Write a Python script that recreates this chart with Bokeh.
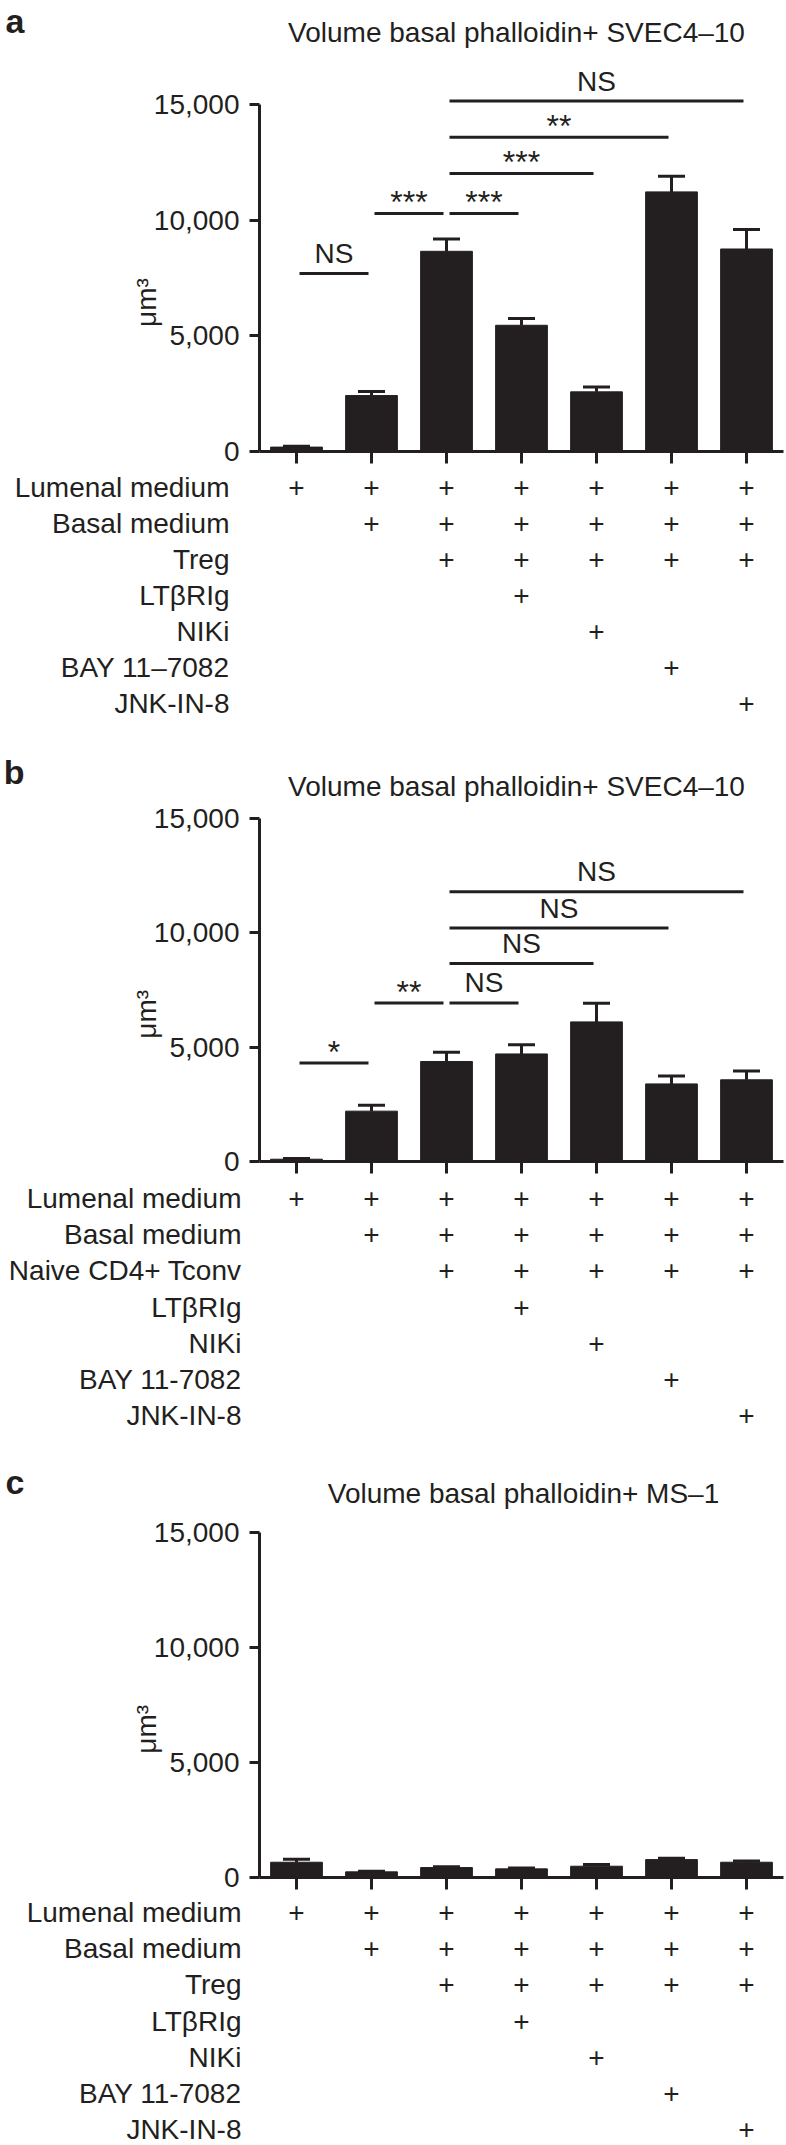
import math
from bokeh.plotting import figure
from bokeh.layouts import column
from bokeh.models import Range1d, FixedTicker, NumeralTickFormatter, ColumnDataSource, LinearAxis
from bokeh.embed import file_html
from bokeh.resources import INLINE
from bokeh.core.properties import value

FONT = "Liberation Sans"
INK = "#231f20"

groups = [1, 2, 3, 4, 5, 6, 7]

# ---- data ----
a_values = [190, 2420, 8660, 5460, 2580, 11230, 8760]
a_errors = [40, 175, 530, 290, 215, 680, 840]
b_values = [100, 2200, 4370, 4700, 6100, 3390, 3570]
b_errors = [30, 260, 400, 400, 820, 350, 380]
c_values = [663, 245, 432, 375, 490, 778, 663]
c_errors = [130, 30, 30, 43, 72, 58, 57]

a_comp_from = [1, 2, 3, 3, 3, 3]
a_comp_to = [2, 3, 4, 5, 6, 7]
a_comp_y = [7700, 10300, 10300, 12030, 13590, 15160]
a_comp_label = ["NS", "***", "***", "***", "**", "NS"]

b_comp_from = [1, 2, 3, 3, 3, 3]
b_comp_to = [2, 3, 4, 5, 6, 7]
b_comp_y = [4300, 6930, 6930, 8650, 10200, 11790]
b_comp_label = ["*", "**", "NS", "NS", "NS", "NS"]

a_title = "Volume basal phalloidin+ SVEC4\u201310"
b_title = "Volume basal phalloidin+ SVEC4\u201310"
c_title = "Volume basal phalloidin+ MS\u20131"
unit_label = "\u03bcm\u00b3"

a_rows = ["Lumenal medium", "Basal medium", "Treg", "LT\u03b2RIg", "NIKi", "BAY 11\u20137082", "JNK-IN-8"]
b_rows = ["Lumenal medium", "Basal medium", "Naive CD4+ Tconv", "LT\u03b2RIg", "NIKi", "BAY 11-7082", "JNK-IN-8"]
c_rows = ["Lumenal medium", "Basal medium", "Treg", "LT\u03b2RIg", "NIKi", "BAY 11-7082", "JNK-IN-8"]

plus_matrix = [
    [1, 1, 1, 1, 1, 1, 1],
    [0, 1, 1, 1, 1, 1, 1],
    [0, 0, 1, 1, 1, 1, 1],
    [0, 0, 0, 1, 0, 0, 0],
    [0, 0, 0, 0, 1, 0, 0],
    [0, 0, 0, 0, 0, 1, 0],
    [0, 0, 0, 0, 0, 0, 1],
]

# ---- layout constants (pixels) ----
W = 786
G1PX = 296.0     # page x of first group
UNIT = 75.0      # pixels per group
AXIS_PX = 259    # y-axis line / frame left
RIGHT_PX = 783
TXT = "28px"


def px2x(px):
    return 1 + (px - G1PX) / UNIT


def new_fig(height, y_range, top=0, bottom=0, xaxis=True):
    p = figure(width=W, height=height,
               x_range=Range1d(px2x(AXIS_PX), px2x(RIGHT_PX)), y_range=y_range,
               output_backend="svg", toolbar_location=None, title=None,
               min_border_left=AXIS_PX, min_border_right=W - RIGHT_PX,
               min_border_top=top, min_border_bottom=bottom,
               x_axis_location="below" if xaxis else None)
    p.outline_line_color = None
    p.xgrid.visible = False
    p.ygrid.visible = False
    p.background_fill_color = "white"
    p.border_fill_color = "white"
    return p


def label_axis(ax, ticks, labels, standoff, size=TXT, bold=False):
    ax.ticker = FixedTicker(ticks=ticks)
    ax.major_label_overrides = {t: l for t, l in zip(ticks, labels)}
    ax.axis_line_color = None
    ax.major_tick_line_color = None
    ax.minor_tick_line_color = None
    ax.major_tick_out = 0
    ax.major_tick_in = 0
    ax.minor_tick_out = 0
    ax.minor_tick_in = 0
    ax.major_label_standoff = standoff
    ax.major_label_text_font = FONT
    ax.major_label_text_font_size = size
    ax.major_label_text_color = INK
    if bold:
        ax.major_label_text_font_style = "bold"


def bar_fig(vals, errs, cf, ct, cy, cl, y_end, height, top):
    p = new_fig(height, Range1d(0, y_end), top=top, bottom=18)

    ya = p.yaxis[0]
    ya.ticker = FixedTicker(ticks=[0, 5000, 10000, 15000])
    ya.formatter = NumeralTickFormatter(format="0,0")
    ya.bounds = (0, 15000)
    ya.axis_line_width = 3
    ya.axis_line_color = INK
    ya.major_tick_line_width = 3
    ya.major_tick_line_color = INK
    ya.major_tick_out = 10
    ya.major_tick_in = 0
    ya.minor_tick_out = 0
    ya.minor_tick_in = 0
    ya.major_label_standoff = 10
    ya.major_label_text_font = FONT
    ya.major_label_text_font_size = TXT
    ya.major_label_text_color = INK

    # unit label: a second, bare left axis carrying one rotated label at mid-scale
    ua = LinearAxis()
    label_axis(ua, [7500], [unit_label], 4)
    ua.major_label_orientation = math.pi / 2
    p.add_layout(ua, "left")

    xa = p.xaxis[0]
    xa.ticker = FixedTicker(ticks=groups)
    xa.axis_line_width = 3
    xa.axis_line_color = INK
    xa.major_tick_line_width = 3
    xa.major_tick_line_color = INK
    xa.major_tick_out = 12
    xa.major_tick_in = 0
    xa.minor_tick_out = 0
    xa.minor_tick_in = 0
    xa.major_label_standoff = 0
    xa.major_label_text_font_size = "0px"
    xa.major_label_overrides = {g: "" for g in groups}

    p.vbar(x=groups, top=vals, width=0.69, fill_color=INK, line_color=INK)
    tops = [v + e for v, e in zip(vals, errs)]
    p.segment(x0=groups, y0=vals, x1=groups, y1=tops, line_width=3, line_color=INK)
    p.segment(x0=[g - 0.18 for g in groups], y0=tops, x1=[g + 0.18 for g in groups],
              y1=tops, line_width=3, line_color=INK)

    if cf:
        src = ColumnDataSource(dict(
            x0=[f + 0.04 for f in cf], x1=[t - 0.04 for t in ct], y=cy,
            xm=[(f + t) / 2 for f, t in zip(cf, ct)], lab=cl,
            off=[-20 if s == "NS" else -11 for s in cl],
            fs=["28px" if s == "NS" else "32px" for s in cl]))
        p.segment(x0="x0", y0="y", x1="x1", y1="y", source=src, line_width=3, line_color=INK)
        p.text(x="xm", y="y", text="lab", source=src, y_offset="off",
               text_font=value(FONT), text_font_size="fs", text_color=INK,
               text_align="center", text_baseline="middle")
    return p


def table_fig(rows, height, first_px, pitch, label_right_px):
    # y = row index; row i sits first_px + pitch*i pixels below the figure top
    yr = Range1d(start=(height - first_px) / pitch, end=-first_px / pitch)
    p = new_fig(height, yr, xaxis=False)
    idx = list(range(len(rows)))
    label_axis(p.yaxis[0], idx, rows, AXIS_PX - label_right_px)
    xs, ys = [], []
    for ri, row in enumerate(plus_matrix):
        for gi, flag in enumerate(row):
            if flag:
                xs.append(groups[gi])
                ys.append(ri)
    p.text(x=xs, y=ys, text=["+"] * len(xs), text_font=value(FONT), text_font_size=TXT,
           text_color=INK, text_align="center", text_baseline="middle")
    return p


def header_fig(height, letter, letter_px, title, title_px, title_cx_px):
    # y = pixels below the figure top
    p = new_fig(height, Range1d(start=height, end=0), xaxis=False)
    label_axis(p.yaxis[0], [letter_px], [letter], AXIS_PX - 24, size="34px", bold=True)
    p.text(x=[px2x(title_cx_px)], y=[title_px], text=[title], text_font=value(FONT),
           text_font_size=TXT, text_color=INK, text_align="center",
           text_baseline="middle")
    return p


ha = header_fig(58, "a", 20, a_title, 32.2, 516)
pa = bar_fig(a_values, a_errors, a_comp_from, a_comp_to, a_comp_y, a_comp_label,
             17000, 411, 0)
ta = table_fig(a_rows, 266, 18, 36.0, 229)

hb = header_fig(67, "b", 36, b_title, 51.2, 516)
pb = bar_fig(b_values, b_errors, b_comp_from, b_comp_to, b_comp_y, b_comp_label,
             15600, 377, 2)
tb = table_fig(b_rows, 271, 19, 36.2, 241)

hc = header_fig(66, "c", 31, c_title, 43.2, 523)
pc = bar_fig(c_values, c_errors, [], [], [], [], 15600, 379, 2)
tc = table_fig(c_rows, 250, 17, 36.2, 241)

layout = column(ha, pa, ta, hb, pb, tb, hc, pc, tc, spacing=0)
open("out.html", "w").write(file_html(layout, INLINE))
